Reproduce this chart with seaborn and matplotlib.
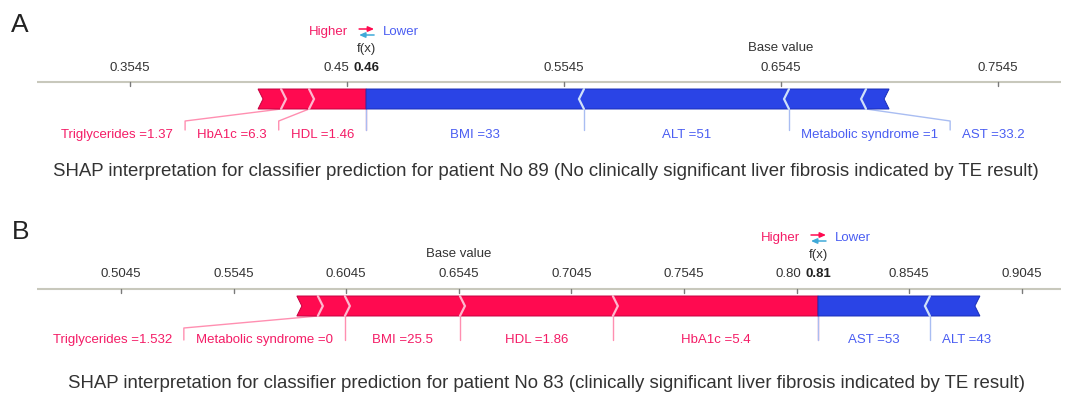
import matplotlib
matplotlib.use("Agg")
import matplotlib.pyplot as plt
import seaborn as sns
from matplotlib.patches import Polygon

# ---- data -----------------------------------------------------------------
base_value = 0.6545

# Patient 89
a_features = ["Triglycerides", "HbA1c", "HDL", "BMI", "ALT", "Metabolic syndrome", "AST"]
a_values = ["1.37", "6.3", "1.46", "33", "51", "1", "33.2"]
a_shap = [0.0106, 0.0129, 0.0263, -0.1004, -0.0945, -0.0355, -0.0106]
a_ticks = [0.3545, 0.4545, 0.5545, 0.6545, 0.7545]
a_tick_labels = ["0.3545", "0.45", "0.5545", "0.6545", "0.7545"]
a_caption = ("SHAP interpretation for classifier prediction for patient No 89 "
             "(No clinically significant liver fibrosis indicated by TE result)")

# Patient 83
b_features = ["Triglycerides", "Metabolic syndrome", "BMI", "HDL", "HbA1c", "AST", "ALT"]
b_values = ["1.532", "0", "25.5", "1.86", "5.4", "53", "43"]
b_shap = [0.0093, 0.0120, 0.0511, 0.0679, 0.0911, -0.0497, -0.0222]
b_ticks = [0.5045, 0.5545, 0.6045, 0.6545, 0.7045, 0.7545, 0.8045, 0.8545, 0.9045]
b_tick_labels = ["0.5045", "0.5545", "0.6045", "0.6545", "0.7045", "0.7545", "0.80",
                 "0.8545", "0.9045"]
b_caption = ("SHAP interpretation for classifier prediction for patient No 83 "
             "(clinically significant liver fibrosis indicated by TE result)")

# ---- style ----------------------------------------------------------------
sns.set_theme(style="white")
plt.rcParams["font.family"] = ["Liberation Sans", "DejaVu Sans"]

RED = "#ff0a50"
RED_EDGE = "#c40040"
RED_SEP = "#ffb8cf"
RED_TXT = "#f41c66"
RED_LINE = "#ff8fb1"
BLUE = "#2a44e6"
BLUE_EDGE = "#1b2fb8"
BLUE_SEP = "#cfe0fa"
BLUE_TXT = "#4a5df2"
BLUE_LINE = "#a9bdf2"
GREY_TXT = "#333333"
AXIS_COL = "#c8c8bc"

W, H = 1067, 397
fig = plt.figure(figsize=(W / 100, H / 100), dpi=100)
renderer = fig.canvas.get_renderer()

FS = 9.5          # label / tick font size (pt)
PAD = 12          # horizontal padding around feature labels (px)
TIP = 5           # chevron depth (px)


def text_width_px(s, **kw):
    t = fig.text(0, 0, s, fontsize=FS, **kw)
    w = t.get_window_extent(renderer=renderer).width
    t.remove()
    return w


def small_arrow(ax, x_from, x_to, y, color):
    ax.annotate("", xy=(x_to, y), xytext=(x_from, y),
                arrowprops=dict(arrowstyle="-|>,head_length=0.5,head_width=0.22",
                                color=color, lw=1.1, shrinkA=0, shrinkB=0,
                                mutation_scale=7))


def force_panel(top, bottom, xlim, lay, features, values, shap, ticks, tick_labels,
                caption, letter):
    ax = fig.add_axes([0, 1 - bottom / H, 1, (bottom - top) / H])
    ax.set_xlim(*xlim)
    ax.set_ylim(bottom, top)
    ax.axis("off")
    ppu = W / (xlim[1] - xlim[0])            # pixels per unit of model output
    px = lambda v: (v - xlim[0]) * ppu         # data -> pixel column
    dv = lambda p: p / ppu                     # pixel length -> data length
    fx = base_value + sum(shap)

    # axis line with ticks
    ax.plot([xlim[0] + dv(37), xlim[0] + dv(1061)], [lay["axis"]] * 2,
            color=AXIS_COL, lw=1.5, solid_capstyle="butt", zorder=1)
    for tv, tl in zip(ticks, tick_labels):
        ax.plot([tv, tv], [lay["axis"], lay["axis"] + 4], color="#7a7a7a", lw=1, zorder=2)
        if abs(px(tv) - px(fx)) < 40:
            ax.text(fx - dv(17), lay["tick"], tl, ha="right", va="center",
                    fontsize=FS, color=GREY_TXT)
        else:
            ax.text(tv, lay["tick"], tl, ha="center", va="center",
                    fontsize=FS, color=GREY_TXT)
    ax.text(fx, lay["tick"], f"{fx:.2f}", ha="center", va="center", fontsize=FS,
            fontweight="bold", color="#222222")
    ax.text(fx, lay["fx"], "f(x)", ha="center", va="center", fontsize=FS, color=GREY_TXT)
    ax.text(base_value, lay["fx"] - 1, "Base value", ha="center", va="center",
            fontsize=FS, color=GREY_TXT)

    # Higher / Lower legend
    ax.text(fx - dv(18), lay["hl"], "Higher", ha="right", va="center", fontsize=FS,
            color=RED_TXT)
    ax.text(fx + dv(17), lay["hl"], "Lower", ha="left", va="center", fontsize=FS,
            color=BLUE_TXT)
    small_arrow(ax, fx - dv(7), fx + dv(8), lay["hl"] - 3, RED)
    small_arrow(ax, fx + dv(8), fx - dv(7), lay["hl"] + 3, "#3fa9d8")

    btop, bbot = lay["bar_top"], lay["bar_bot"]
    mid = (btop + bbot) / 2
    t = dv(TIP)

    pos = sorted([i for i, s in enumerate(shap) if s > 0], key=lambda i: -shap[i])
    neg = sorted([i for i, s in enumerate(shap) if s < 0], key=lambda i: shap[i])

    # positive contributions, stacked leftwards from f(x)
    right = fx
    prev_left_px = float("inf")
    for k, i in enumerate(pos):
        x1 = right
        x0 = right - shap[i]
        last = k == 0
        pts = [(x0, btop), (x1, btop), (x1 + (0 if last else t), mid), (x1, bbot),
               (x0, bbot), (x0 + t, mid)]
        ax.add_patch(Polygon(pts, closed=True, facecolor=RED, edgecolor=RED_EDGE,
                             lw=0.7, zorder=3))
        if not last:
            ax.plot([x1, x1 + t, x1], [btop, mid, bbot], color=RED_SEP, lw=1.6,
                    zorder=4, solid_joinstyle="miter")
        label = f"{features[i]} ={values[i]}"
        w = text_width_px(label) + 2 * PAD
        r_px = min(px(x1), prev_left_px)
        l_px = r_px - max(w, px(x1) - px(x0))
        prev_left_px = l_px
        cx = xlim[0] + dv((l_px + r_px) / 2)
        ax.text(cx, lay["label"], label, ha="center", va="center", fontsize=FS,
                color=RED_TXT)
        rx = xlim[0] + dv(r_px)
        if abs(r_px - px(x1)) < 1:
            ax.plot([rx, rx], [bbot, lay["line_bot"]], color=RED_LINE, lw=1, zorder=2)
        else:
            ax.plot([x1, rx, rx], [bbot, bbot + 12, lay["line_bot"]], color=RED_LINE,
                    lw=1, zorder=2)
        right = x0

    # negative contributions, stacked rightwards from f(x)
    left = fx
    prev_right_px = -float("inf")
    for k, i in enumerate(neg):
        x0 = left
        x1 = left - shap[i]
        first = k == 0
        pts = [(x0, btop), (x1, btop), (x1 - t, mid), (x1, bbot), (x0, bbot),
               (x0 - (0 if first else t), mid)]
        ax.add_patch(Polygon(pts, closed=True, facecolor=BLUE, edgecolor=BLUE_EDGE,
                             lw=0.7, zorder=3))
        if not first:
            ax.plot([x0, x0 - t, x0], [btop, mid, bbot], color=BLUE_SEP, lw=1.6,
                    zorder=4, solid_joinstyle="miter")
        label = f"{features[i]} ={values[i]}"
        w = text_width_px(label) + 2 * PAD
        l_px = max(px(x0), prev_right_px)
        r_px = l_px + max(w, px(x1) - px(x0))
        prev_right_px = r_px
        cx = xlim[0] + dv((l_px + r_px) / 2)
        ax.text(cx, lay["label"], label, ha="center", va="center", fontsize=FS,
                color=BLUE_TXT)
        lx = xlim[0] + dv(l_px)
        if abs(l_px - px(x0)) < 1:
            ax.plot([lx, lx], [bbot, lay["line_bot"]], color=BLUE_LINE, lw=1, zorder=2)
        else:
            ax.plot([x0, lx, lx], [bbot, bbot + 12, lay["line_bot"]], color=BLUE_LINE,
                    lw=1, zorder=2)
        left = x1

    fig.text(lay["caption_x"] / W, 1 - lay["caption"] / H, caption, ha="center",
             va="center", fontsize=13.4, color=GREY_TXT)
    fig.text(lay["letter_x"] / W, 1 - lay["letter_y"] / H, letter, ha="left",
             va="center", fontsize=19, color="#222222")


layout_a = dict(hl=32, fx=49, tick=68, axis=82, bar_top=89, bar_bot=109, label=135,
                line_bot=130, caption=172, caption_x=546, letter_x=11, letter_y=25)
layout_b = dict(hl=238, fx=255, tick=274, axis=289, bar_top=296, bar_bot=316, label=340,
                line_bot=340, caption=383, caption_x=546, letter_x=12, letter_y=232)

force_panel(0, 200, (0.29459, 0.78630), layout_a, a_features, a_values, a_shap,
            a_ticks, a_tick_labels, a_caption, "A")
force_panel(200, 397, (0.45077, 0.92457), layout_b, b_features, b_values, b_shap,
            b_ticks, b_tick_labels, b_caption, "B")

fig.savefig("out.png", dpi=100, facecolor="white")
